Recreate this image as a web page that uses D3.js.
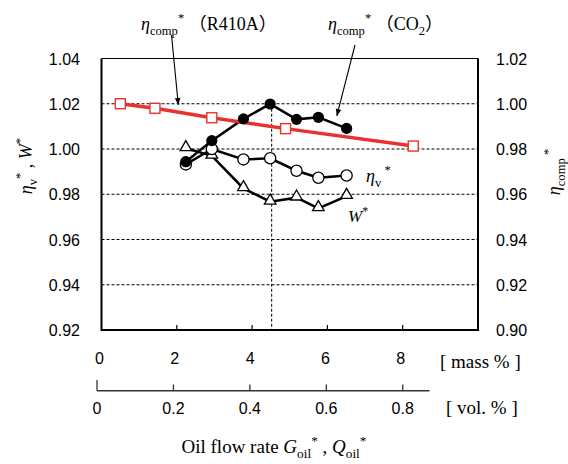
<!DOCTYPE html>
<html>
<head>
<meta charset="utf-8">
<script src="https://d3js.org/d3.v7.min.js"></script>
<style>
  body { margin: 0; background: white; }
  svg { display: block; }
</style>
</head>
<body>
<svg id="chart" width="568" height="464"></svg>
<script>
// ---- data ----
// R410A compressor efficiency (right axis)
const massR410A = [0.5, 1.42, 2.93, 4.89, 8.28];
const etaCompR410A = [1.000, 0.998, 0.9938, 0.989, 0.9813];

// CO2 runs, same oil masses for all three series
const massCO2 = [2.24, 2.93, 3.77, 4.48, 5.18, 5.76, 6.51];
const etaCompCO2 = [0.9744, 0.9837, 0.9933, 0.9999, 0.9931, 0.994, 0.9891]; // right axis
const etaV = [0.9932, 1.000, 0.9954, 0.9959, 0.9904, 0.9873, 0.9883];       // left axis
const workW = [1.0003, 0.997, 0.9826, 0.9767, 0.9785, 0.9738, 0.9792];      // left axis

const leftTicks = [0.92, 0.94, 0.96, 0.98, 1.00, 1.02, 1.04];
const rightTicks = [0.90, 0.92, 0.94, 0.96, 0.98, 1.00, 1.02];
const massTicks = [0, 2, 4, 6, 8];
const volTicks = [0, 0.2, 0.4, 0.6, 0.8];
const markerMass = 4.52; // dashed vertical line

const sans = "'Liberation Sans', Arial, sans-serif";
const serif = "'Liberation Serif', 'Times New Roman', 'Noto Sans CJK JP', serif";

const svg = d3.select("#chart");

const x = d3.scaleLinear().domain([0, 10]).range([101.5, 478]);
const xv = d3.scaleLinear().domain([0, 0.87]).range([97, 429.5]);
const yL = d3.scaleLinear().domain([0.92, 1.04]).range([330, 58.5]);
const yR = d3.scaleLinear().domain([0.90, 1.02]).range([330, 58.5]);

// rich text helper: parts with sub / sup / italic
function rich(parent, px, py, size, parts, anchor) {
  const t = parent.append("text")
    .attr("x", px).attr("y", py)
    .attr("font-family", serif)
    .attr("font-size", size)
    .attr("text-anchor", anchor || "start");
  let shift = 0;
  parts.forEach(p => {
    const s = t.append("tspan").text(p.t);
    let target = 0;
    if (p.k === "sub") target = size * 0.28;
    if (p.k === "sup") target = -size * 0.42;
    s.attr("dy", target - shift);
    shift = target;
    if (p.k === "sub" || p.k === "sup") s.attr("font-size", size * 0.7);
    if (p.i) s.attr("font-style", "italic");
  });
  return t;
}

// arrow head
svg.append("defs").append("marker")
  .attr("id", "arr")
  .attr("viewBox", "0 0 10 10")
  .attr("refX", 10).attr("refY", 5)
  .attr("markerWidth", 9).attr("markerHeight", 7)
  .attr("markerUnits", "userSpaceOnUse")
  .attr("orient", "auto")
  .append("path").attr("d", "M0,1 L10,5 L0,9 z").attr("fill", "black");

// gridlines
svg.append("g").selectAll("line")
  .data(leftTicks.slice(1))
  .join("line")
  .attr("x1", x(0)).attr("x2", x(10))
  .attr("y1", d => yL(d)).attr("y2", d => yL(d))
  .attr("stroke", "black")
  .attr("stroke-width", 1)
  .attr("stroke-dasharray", d => d === 1.04 ? null : "3,2");

// dashed vertical line
svg.append("line")
  .attr("x1", x(markerMass)).attr("x2", x(markerMass))
  .attr("y1", yL(1.02)).attr("y2", yL(0.92))
  .attr("stroke", "black").attr("stroke-width", 1)
  .attr("stroke-dasharray", "3,2");

// frame
svg.append("path")
  .attr("d", `M${x(0)},${yL(1.04)} V${yL(0.92)} H${x(10)} V${yL(1.04)}`)
  .attr("fill", "none").attr("stroke", "black").attr("stroke-width", 2);

// bottom inner ticks
svg.append("g").selectAll("line")
  .data(massTicks.slice(1))
  .join("line")
  .attr("x1", d => x(d)).attr("x2", d => x(d))
  .attr("y1", yL(0.92)).attr("y2", yL(0.92) - 5)
  .attr("stroke", "black").attr("stroke-width", 1.2);

// tick labels
svg.append("g").selectAll("text")
  .data(leftTicks)
  .join("text")
  .attr("x", 80).attr("y", d => yL(d) + 6)
  .attr("text-anchor", "end")
  .attr("font-family", sans).attr("font-size", 16)
  .text(d => d.toFixed(2));

svg.append("g").selectAll("text")
  .data(rightTicks)
  .join("text")
  .attr("x", 496).attr("y", d => yR(d) + 6)
  .attr("font-family", sans).attr("font-size", 16)
  .text(d => d.toFixed(2));

svg.append("g").selectAll("text")
  .data(massTicks)
  .join("text")
  .attr("x", d => x(d) - 2).attr("y", 364)
  .attr("text-anchor", "middle")
  .attr("font-family", sans).attr("font-size", 16)
  .text(d => d);

// volume axis
const volG = svg.append("g");
volG.append("line")
  .attr("x1", xv(0)).attr("x2", xv(0.87))
  .attr("y1", 390.7).attr("y2", 390.7)
  .attr("stroke", "#333").attr("stroke-width", 1.5);
volG.selectAll("line.tk")
  .data(volTicks)
  .join("line").attr("class", "tk")
  .attr("x1", d => xv(d)).attr("x2", d => xv(d))
  .attr("y1", 390.7).attr("y2", d => d === 0 ? 380 : 384.5)
  .attr("stroke", "#333").attr("stroke-width", 1.3);
volG.selectAll("text")
  .data(volTicks)
  .join("text")
  .attr("x", d => xv(d)).attr("y", 414)
  .attr("text-anchor", "middle")
  .attr("font-family", sans).attr("font-size", 16)
  .text(d => d === 0 ? "0" : d.toFixed(1));

// unit labels
svg.append("text").attr("x", 440).attr("y", 368)
  .attr("font-family", serif).attr("font-size", 19).text("[ mass % ]");
svg.append("text").attr("x", 446).attr("y", 414)
  .attr("font-family", serif).attr("font-size", 19).text("[ vol. % ]");

// series lines
const lineR = d3.line().x(d => x(d[0])).y(d => yR(d[1]));
const lineL = d3.line().x(d => x(d[0])).y(d => yL(d[1]));

const r410 = d3.zip(massR410A, etaCompR410A);
const co2 = d3.zip(massCO2, etaCompCO2);
const ev = d3.zip(massCO2, etaV);
const ww = d3.zip(massCO2, workW);

svg.append("path").datum(ww).attr("d", lineL)
  .attr("fill", "none").attr("stroke", "black").attr("stroke-width", 2.5);
svg.append("path").datum(ev).attr("d", lineL)
  .attr("fill", "none").attr("stroke", "black").attr("stroke-width", 2.5);
svg.append("path").datum(co2).attr("d", lineR)
  .attr("fill", "none").attr("stroke", "black").attr("stroke-width", 2.5);
svg.append("path").datum(r410).attr("d", lineR)
  .attr("fill", "none").attr("stroke", "#e8322f").attr("stroke-width", 3.5);

// markers
const tri = d3.symbol().type(d3.symbolTriangle).size(58);
svg.append("g").selectAll("path")
  .data(ww)
  .join("path")
  .attr("d", tri)
  .attr("transform", d => `translate(${x(d[0])},${yL(d[1]) - 1})`)
  .attr("fill", "white").attr("stroke", "black").attr("stroke-width", 1.3);

svg.append("g").selectAll("circle")
  .data(ev)
  .join("circle")
  .attr("cx", d => x(d[0])).attr("cy", d => yL(d[1]))
  .attr("r", 5.6)
  .attr("fill", "white").attr("stroke", "black").attr("stroke-width", 1.3);

svg.append("g").selectAll("circle")
  .data(co2)
  .join("circle")
  .attr("cx", d => x(d[0])).attr("cy", d => yR(d[1]))
  .attr("r", 5.6)
  .attr("fill", "black");

svg.append("g").selectAll("rect")
  .data(r410)
  .join("rect")
  .attr("x", d => x(d[0]) - 5).attr("y", d => yR(d[1]) - 5)
  .attr("width", 10).attr("height", 10)
  .attr("fill", "white").attr("stroke", "#e8322f").attr("stroke-width", 1.4);

// series labels
rich(svg, 366, 182, 18, [{t: "η", i: true}, {t: "v", k: "sub"}, {t: " *", k: "sup"}]);
rich(svg, 348, 222, 17, [{t: "W", i: true}, {t: "*", k: "sup"}]);

// annotations with arrows
rich(svg, 141, 30, 18, [{t: "η", i: true}, {t: "comp", k: "sub"}, {t: "*", k: "sup"}, {t: " （R410A）"}]);
svg.append("line")
  .attr("x1", 171.5).attr("y1", 35)
  .attr("x2", x(2.04)).attr("y2", yR(0.9995))
  .attr("stroke", "black").attr("stroke-width", 1.1)
  .attr("marker-end", "url(#arr)");

rich(svg, 328, 30, 18, [{t: "η", i: true}, {t: "comp", k: "sub"}, {t: "*", k: "sup"}, {t: " （CO"}, {t: "2", k: "sub"}, {t: "）"}]);
svg.append("line")
  .attr("x1", 355).attr("y1", 45)
  .attr("x2", x(6.25)).attr("y2", yR(0.9946))
  .attr("stroke", "black").attr("stroke-width", 1.1)
  .attr("marker-end", "url(#arr)");

// axis titles
const lt = svg.append("g").attr("transform", "translate(32,166) rotate(-90)");
rich(lt, 0, 0, 18, [{t: "η", i: true}, {t: "v", k: "sub"}, {t: "*", k: "sup"}, {t: " ,  "}, {t: "W", i: true}, {t: "*", k: "sup"}], "middle");

const rt = svg.append("g").attr("transform", "translate(560,172) rotate(-90)");
rich(rt, 0, 0, 18, [{t: "η", i: true}, {t: "comp", k: "sub"}, {t: "   *", k: "sup"}], "middle");

rich(svg, 274, 453, 19, [
  {t: "Oil flow rate "}, {t: "G", i: true}, {t: "oil", k: "sub"}, {t: "*", k: "sup"},
  {t: " , "}, {t: "Q", i: true}, {t: "oil", k: "sub"}, {t: "*", k: "sup"}
], "middle");
</script>
</body>
</html>
